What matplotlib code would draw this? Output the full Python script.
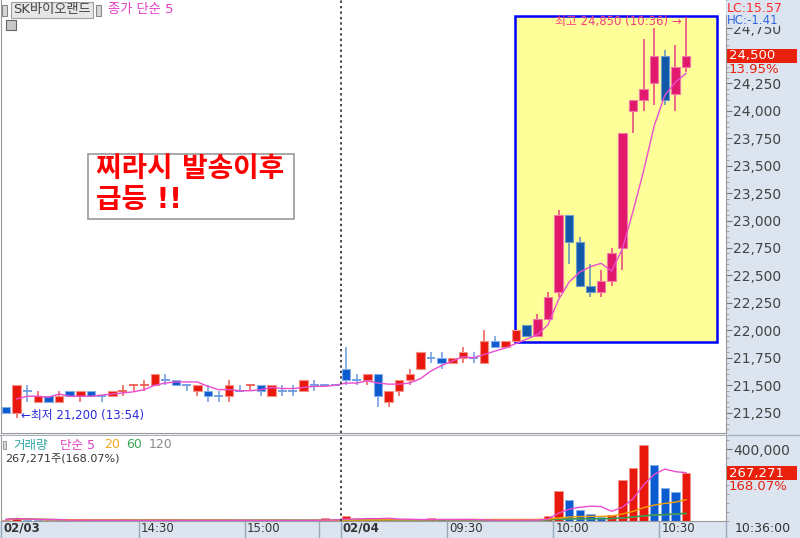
import numpy as np
import pandas as pd
import matplotlib
matplotlib.use('Agg')
import matplotlib.pyplot as plt
import matplotlib.transforms as mtransforms
from matplotlib.patches import Rectangle
from matplotlib.ticker import MultipleLocator, FuncFormatter

plt.rcParams['font.family'] = ['DejaVu Sans', 'Noto Sans CJK KR']

# SK바이오랜드 3분봉  02/03 13:51 ~ 장마감, 02/04 09:00 ~ 10:36
open_0203 = [21300, 21250, 21450, 21350, 21400, 21350, 21450, 21400, 21450, 21400, 21400,
             21450, 21500, 21500, 21500, 21550, 21550, 21500, 21450, 21450, 21400, 21400,
             21450, 21500, 21500, 21400, 21450, 21450, 21450, 21500, 21500, 21500]
high_0203 = [21300, 21500, 21500, 21450, 21400, 21450, 21450, 21450, 21450, 21400, 21450,
             21500, 21500, 21550, 21600, 21600, 21550, 21500, 21500, 21500, 21450, 21550,
             21500, 21500, 21500, 21500, 21500, 21500, 21550, 21550, 21500, 21500]
low_0203 = [21250, 21200, 21350, 21350, 21350, 21350, 21400, 21350, 21400, 21350, 21400,
            21400, 21450, 21450, 21500, 21500, 21500, 21450, 21400, 21350, 21350, 21350,
            21450, 21450, 21400, 21400, 21400, 21400, 21450, 21450, 21500, 21500]
close_0203 = [21250, 21500, 21450, 21400, 21350, 21400, 21400, 21450, 21400, 21400, 21450,
              21450, 21500, 21500, 21600, 21550, 21500, 21500, 21500, 21400, 21400, 21500,
              21450, 21500, 21450, 21500, 21450, 21450, 21550, 21500, 21500, 21500]
vol_0203 = [8000, 19000, 5000, 4000, 5000, 4500, 5000, 4000, 3500, 3000, 4000,
            3500, 3000, 3500, 5000, 4000, 3000, 2500, 3500, 4000, 3000, 4500,
            2500, 3000, 2500, 3500, 3000, 2500, 4000, 3000, 15000, 2000]

open_0204 = [21650, 21550, 21550, 21600, 21350, 21450, 21550, 21650, 21750, 21750, 21700,
             21750, 21750, 21700, 21900, 21850, 21900, 22050, 21950, 22100, 22350, 23050,
             22800, 22400, 22350, 22450, 22750, 24000, 24100, 24250, 24500, 24150, 24400]
high_0204 = [21850, 21600, 21600, 21600, 21450, 21550, 21650, 21800, 21800, 21800, 21750,
             21850, 21800, 22000, 21950, 21900, 22000, 22050, 22150, 22350, 23100, 23050,
             22850, 22600, 22550, 22750, 23800, 24100, 24650, 24750, 24550, 24600, 24850]
low_0204 = [21500, 21500, 21500, 21300, 21300, 21400, 21500, 21650, 21700, 21650, 21700,
            21700, 21700, 21700, 21850, 21850, 21900, 21950, 21950, 22100, 22300, 22600,
            22400, 22300, 22300, 22400, 22550, 23800, 24000, 24050, 24050, 24000, 24350]
close_0204 = [21550, 21550, 21600, 21400, 21450, 21550, 21600, 21800, 21750, 21700, 21750,
              21800, 21750, 21900, 21850, 21900, 22000, 21950, 22100, 22300, 23050, 22800,
              22400, 22350, 22450, 22700, 23800, 24100, 24200, 24500, 24100, 24400, 24500]
vol_0204 = [30000, 8000, 13000, 14000, 12000, 6000, 5000, 4000, 14000, 13000, 5000,
            6000, 4000, 5000, 4000, 5000, 6000, 5000, 8000, 30000, 168000, 117000,
            60000, 38000, 20000, 35000, 230000, 296000, 423000, 315000, 183000, 159024, 267271]

tick_pos = [-0.47, 12.5, 22.5, 29.5, 31.5, 41.5, 51.5, 61.5]
tick_lab = ['02/03', '14:30', '15:00', '', '02/04', '09:30', '10:00', '10:30']
price_ticks = list(range(21250, 24751, 250))

o = np.array(open_0203 + open_0204, float)
h = np.array(high_0203 + high_0204, float)
l = np.array(low_0203 + low_0204, float)
c = np.array(close_0203 + close_0204, float)
v = np.array(vol_0203 + vol_0204, float)
n = len(c)
x = np.arange(n)
day2 = len(close_0203)
prev_close = close_0203[-1]
last = c[-1]

# 양봉/음봉 (보합은 전봉 종가 비교)
d = []
for i in range(n):
    if c[i] > o[i]:
        di = 1
    elif c[i] < o[i]:
        di = -1
    else:
        pc = c[i - 1] if i > 0 else c[i]
        di = 1 if c[i] > pc else (-1 if c[i] < pc else (d[-1] if d else 1))
    d.append(di)

W, H = 800, 538
strip = '#dbe4ef'
fig = plt.figure(figsize=(8, 5.38), dpi=100)
fig.patch.set_facecolor('white')


def box(x0, y0, x1, y1):
    return [x0 / W, 1 - y1 / H, (x1 - x0) / W, (y1 - y0) / H]


ax = fig.add_axes(box(1, 0, 726, 433))
axv = fig.add_axes(box(1, 436, 726, 521), sharex=ax)

# 축 배경
fig.patches.append(Rectangle((726 / W, 0), 74 / W, 1, transform=fig.transFigure,
                             facecolor=strip, edgecolor='none', zorder=-5))
fig.patches.append(Rectangle((0, 0), 1, 17 / H, transform=fig.transFigure,
                             facecolor=strip, edgecolor='none', zorder=-5))
fig.lines.append(plt.Line2D([0, 1], [1 - 434.5 / H] * 2, transform=fig.transFigure,
                            color='#a8b0bc', lw=1, zorder=-4))

# 강조 박스
ax.add_patch(Rectangle((47.9, 21895), 19.0, 2967, facecolor='#ffff99',
                       edgecolor='#0000ff', lw=1.8, zorder=1))

# 캔들
for i in range(n):
    inbox = i >= day2 + 17
    if d[i] > 0:
        fc, ec, wc = ('#e2186c', '#f07aa6', '#e8407f') if inbox else ('#e8190c', '#f29088', '#ee5a50')
    else:
        fc, ec, wc = ('#1258a8', '#6d9ccc', '#5a8fc0') if inbox else ('#0c5ad0', '#86aee8', '#6a9ae0')
    ax.vlines(x[i], l[i], h[i], color=wc, lw=1.1, zorder=2)
    if o[i] == c[i]:
        ax.hlines(c[i], x[i] - 0.42, x[i] + 0.42, color=wc, lw=1.3, zorder=3)
    else:
        ax.bar(x[i], abs(c[i] - o[i]), bottom=min(o[i], c[i]), width=0.8,
               color=fc, edgecolor=ec, lw=0.8, zorder=3)

ma5 = pd.Series(c).rolling(5, min_periods=1).mean()
ax.plot(x[1:], ma5[1:], color='#ea4ccf', lw=1, zorder=4)

ax.axvline(31.5, color='#444444', ls=(0, (1.2, 1.6)), lw=1.4, zorder=5)
axv.axvline(31.5, color='#444444', ls=(0, (1.2, 1.6)), lw=1.4, zorder=5)

ax.set_xlim(-0.47, 67.76)
ax.set_ylim(21065, 25008)

for a in (ax, axv):
    a.yaxis.tick_right()
    for s in a.spines.values():
        s.set_color('#9a9a9a')
    a.spines['top'].set_visible(False)

# 현재가 눈금은 현재가 표시에 가려짐
ax.set_yticks(price_ticks)
ax.yaxis.set_major_formatter(FuncFormatter(lambda val, p: '' if val == last else f'{val:,.0f}'))
ax.yaxis.set_minor_locator(MultipleLocator(50))
ax.tick_params(axis='y', which='major', direction='out', length=4, color='#777777',
               labelsize=10, labelcolor='#444444', pad=1)
ax.tick_params(axis='y', which='minor', direction='out', length=2, color='#999999')
ax.tick_params(axis='x', bottom=False, labelbottom=False)

# 현재가 표시
yt = ax.get_yaxis_transform()
ax.add_patch(Rectangle((1.0014, last - 66), 0.0966, 128, transform=yt,
                       facecolor='#e8200c', edgecolor='none', clip_on=False, zorder=6))
ax.text(1.004, last, f'{last:,.0f}', transform=yt, color='white', fontsize=9.5,
        va='center', ha='left', zorder=7)
ax.text(1.004, last - 125, f'{(last / prev_close - 1) * 100:.2f}%', transform=yt,
        color='#e8200c', fontsize=9.5, va='center', ha='left')

hi = int(np.argmax(h))
lo = int(np.argmin(l))
lo_time = '13:54'
hi_time = '10:36'
ax.annotate(f'최고 {h[hi]:,.0f} ({hi_time}) →', xy=(x[hi], h[hi]), xytext=(-3, -3),
            textcoords='offset points', ha='right', va='center', color='#f2407f',
            fontsize=8.5, zorder=6)
ax.annotate(f'←최저 {l[lo]:,.0f} ({lo_time})', xy=(x[lo], l[lo]), xytext=(3, 2),
            textcoords='offset points', ha='left', va='center', color='#2a2ad8',
            fontsize=8.5, zorder=6)

# 최저/최고 대비 등락률 (축 눈금 위에 덮어씀)
fig.text(727 / W, 1 - 8 / H, f'LC:{(last / l[lo] - 1) * 100:.2f}', color='#ff2a2a',
         fontsize=9, va='center', zorder=10,
         bbox=dict(boxstyle='square,pad=0.05', facecolor=strip, edgecolor='none'))
fig.text(727 / W, 1 - 20 / H, f'HC:{(last / h[hi] - 1) * 100:.2f}', color='#3366dd',
         fontsize=8.5, va='center', zorder=10,
         bbox=dict(boxstyle='square,pad=0.02', facecolor=strip, edgecolor='none'))

# 메모 박스
ax.add_patch(Rectangle((87 / 725, (433 - 219) / 432), 206 / 725, 64 / 432,
                       transform=ax.transAxes, facecolor='white', edgecolor='#9a9a9a',
                       lw=1.2, zorder=6))
ax.text(95 / 725, (433 - 170) / 432, '찌라시 발송이후', transform=ax.transAxes,
        color='#ff0000', fontsize=20, fontweight='bold', va='center', ha='left', zorder=7)
ax.text(95 / 725, (433 - 201) / 432, '급등 !!', transform=ax.transAxes,
        color='#ff0000', fontsize=20, fontweight='bold', va='center', ha='left', zorder=7)

# 종목명/지표 범례
fig.patches.append(Rectangle((2 / W, 1 - 16 / H), 5 / W, 11 / H, transform=fig.transFigure,
                             facecolor='#d8d8d8', edgecolor='#888888', lw=0.8))
fig.patches.append(Rectangle((96 / W, 1 - 16 / H), 5 / W, 11 / H, transform=fig.transFigure,
                             facecolor='#d8d8d8', edgecolor='#888888', lw=0.8))
fig.patches.append(Rectangle((6 / W, 1 - 30 / H), 10 / W, 10 / H, transform=fig.transFigure,
                             facecolor='#c8c8c8', edgecolor='#666666', lw=0.8))
fig.text(13 / W, 1 - 10 / H, 'SK바이오랜드', color='#444444', fontsize=9.5, va='center',
         bbox=dict(boxstyle='square,pad=0.15', facecolor='#e6e6e6', edgecolor='#a0a0a0', lw=0.8))
fig.text(108 / W, 1 - 10 / H, '종가 단순 5', color='#e23fc4', fontsize=9.5, va='center')

# 거래량
vcol = ['#e8190c' if i == 0 or v[i] >= v[i - 1] else '#0c5ad0' for i in range(n)]
vedge = ['#f29088' if cc == '#e8190c' else '#86aee8' for cc in vcol]
axv.bar(x, v, width=0.8, color=vcol, edgecolor=vedge, lw=0.6, zorder=2)
vs = pd.Series(v)
axv.plot(x, vs.rolling(120, min_periods=1).mean(), color='#9a9a9a', lw=1, zorder=3)
axv.plot(x, vs.rolling(60, min_periods=1).mean(), color='#2f9a45', lw=1, zorder=3)
axv.plot(x, vs.rolling(20, min_periods=1).mean(), color='#f5a000', lw=1, zorder=3)
axv.plot(x, vs.rolling(5, min_periods=1).mean(), color='#ea4ccf', lw=1, zorder=4)
axv.set_ylim(0, 474000)
axv.set_yticks([400000])
axv.yaxis.set_major_formatter(FuncFormatter(lambda val, p: f'{val:,.0f}'))
axv.yaxis.set_minor_locator(MultipleLocator(50000))
axv.tick_params(axis='y', which='major', direction='out', length=4, color='#777777',
                labelsize=10, labelcolor='#444444', pad=1)
axv.tick_params(axis='y', which='minor', direction='out', length=2, color='#999999')

vyt = axv.get_yaxis_transform()
axv.add_patch(Rectangle((1.0014, v[-1] - 37000), 0.0966, 74000, transform=vyt,
                        facecolor='#e8200c', edgecolor='none', clip_on=False, zorder=6))
axv.text(1.004, v[-1], f'{v[-1]:,.0f}', transform=vyt, color='white', fontsize=9.5,
         va='center', ha='left', zorder=7)
ratio = v[-1] / v[-2] * 100
axv.text(1.004, v[-1] - 76000, f'{ratio:.2f}%', transform=vyt, color='#e8200c',
         fontsize=9.5, va='center', ha='left')

leg = [('거래량', '#2ea6a6', 13), ('단순 5', '#e23fc4', 60), ('20', '#f5a623', 104),
       ('60', '#3aa655', 126), ('120', '#8a8a8a', 149)]
fig.patches.append(Rectangle((3 / W, 1 - 449 / H), 3 / W, 8 / H, transform=fig.transFigure,
                             facecolor='#d8d8d8', edgecolor='#888888', lw=0.6))
for txt, col, px in leg:
    fig.text(px / W, 1 - 445 / H, txt, color=col, fontsize=9, va='center')
fig.text(5 / W, 1 - 459 / H, f'{v[-1]:,.0f}주({ratio:.2f}%)', color='#333333',
         fontsize=8, va='center')

# 시간축
axv.set_xticks(tick_pos)
axv.set_xticklabels(tick_lab, ha='left')
axv.tick_params(axis='x', direction='out', length=12.5, width=1, color='#9aa8ba',
                pad=-12, labelsize=8.5, labelcolor='#333333')
off = mtransforms.ScaledTranslation(1.5 / 72, 0, fig.dpi_scale_trans)
for lab in axv.get_xticklabels():
    lab.set_transform(lab.get_transform() + off)
    if '/' in lab.get_text():
        lab.set_fontweight('bold')
fig.text(735 / W, 1 - 529 / H, f'{hi_time}:00', color='#333333', fontsize=9, va='center')
fig.lines.append(plt.Line2D([726 / W] * 2, [0, 17 / H], transform=fig.transFigure,
                            color='#9aa8ba', lw=1))

fig.savefig('out.png', dpi=100)
